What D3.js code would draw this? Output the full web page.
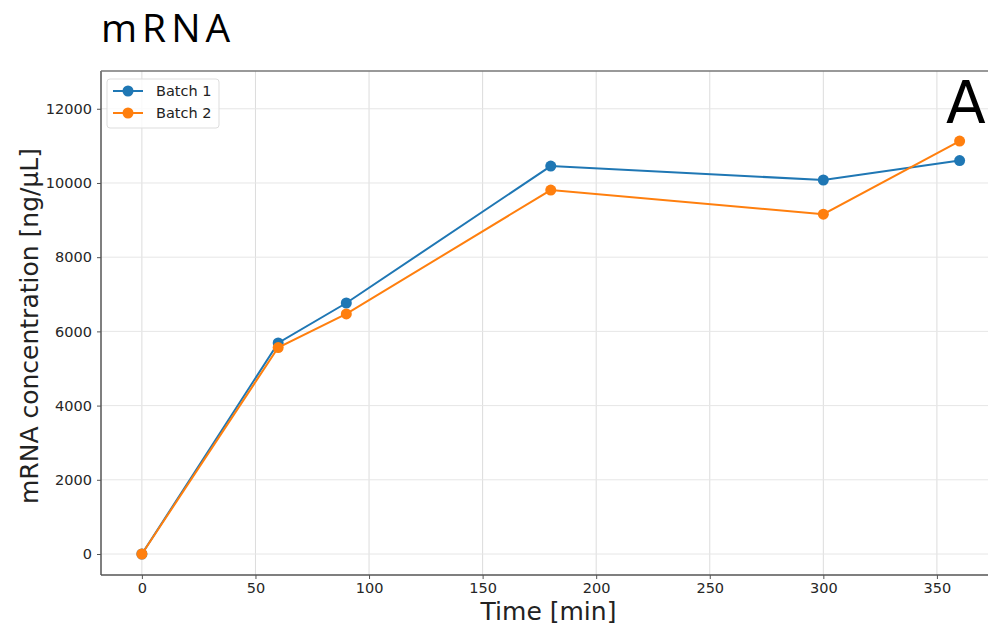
<!DOCTYPE html>
<html><head><meta charset="utf-8">
<script src="https://cdn.jsdelivr.net/npm/d3@7"></script>
<style>body{margin:0;background:#fff}svg{display:block}</style>
</head><body>
<script>
const times = [0, 60, 90, 180, 300, 360];
const batch1 = [0, 5690, 6765, 10455, 10080, 10605];
const batch2 = [0, 5565, 6470, 9810, 9160, 11130];
const seriesNames = ["Batch 1", "Batch 2"];
const colors = ["#1f77b4", "#ff7f0e"];
const xTicks = [0, 50, 100, 150, 200, 250, 300, 350];
const yTicks = [0, 2000, 4000, 6000, 8000, 10000, 12000];

const W = 988, H = 625;
const svg = d3.select("body").append("svg").attr("width", W).attr("height", H);
const L = 101, T = 71, B = 575;
const x = d3.scaleLinear().domain([-18, 378]).range([L, L + 396 * 2.2715]);
const y = d3.scaleLinear().domain([-566, 13018]).range([B, T]);
const R = W;

// grid
const g = svg.append("g");
g.selectAll(".gx").data(xTicks).enter().append("line")
  .attr("x1", d => x(d)).attr("x2", d => x(d)).attr("y1", T).attr("y2", B)
  .attr("stroke", "#dcdcdc").attr("stroke-width", 1);
g.selectAll(".gy").data(yTicks).enter().append("line")
  .attr("x1", L).attr("x2", R).attr("y1", d => y(d)).attr("y2", d => y(d))
  .attr("stroke", "#e6e6e6").attr("stroke-width", 1);

// axes
const xAxis = svg.append("g").attr("transform", `translate(0,${B})`)
  .call(d3.axisBottom(x).tickValues(xTicks).tickSize(4).tickPadding(4).tickFormat(d3.format("d")));
const yAxis = svg.append("g").attr("transform", `translate(${L},0)`)
  .call(d3.axisLeft(y).tickValues(yTicks).tickSize(4).tickPadding(5).tickFormat(d3.format("d")));
[xAxis, yAxis].forEach(a => {
  a.select(".domain").remove();
  a.selectAll("line").attr("stroke", "#555").attr("stroke-width", 1);
  a.selectAll("text").attr("font-family", "DejaVu Sans").attr("font-size", 14.5).attr("fill", "#262626");
});
// spines
svg.append("line").attr("x1", L).attr("x2", L).attr("y1", T).attr("y2", B).attr("stroke", "#555").attr("stroke-width", 1.5);
svg.append("line").attr("x1", L).attr("x2", R).attr("y1", B).attr("y2", B).attr("stroke", "#555").attr("stroke-width", 1.5);
svg.append("line").attr("x1", L).attr("x2", R).attr("y1", T).attr("y2", T).attr("stroke", "#777").attr("stroke-width", 1.5);

// lines
const data = [batch1, batch2];
const line = d3.line().x((d, i) => x(times[i])).y(d => y(d));
data.forEach((s, k) => {
  svg.append("path").datum(s).attr("d", line).attr("fill", "none")
    .attr("stroke", colors[k]).attr("stroke-width", 2);
  svg.selectAll(".p" + k).data(s).enter().append("circle")
    .attr("cx", (d, i) => x(times[i])).attr("cy", d => y(d)).attr("r", 5.5).attr("fill", colors[k]);
});

// legend
const lg = svg.append("g");
lg.append("rect").attr("x", 107).attr("y", 79).attr("width", 112).attr("height", 49).attr("rx", 3)
  .attr("fill", "#fff").attr("fill-opacity", 0.8).attr("stroke", "#ddd");
seriesNames.forEach((n, i) => {
  const yy = 91 + i * 22;
  lg.append("line").attr("x1", 113).attr("x2", 143).attr("y1", yy).attr("y2", yy).attr("stroke", colors[i]).attr("stroke-width", 2);
  lg.append("circle").attr("cx", 128).attr("cy", yy).attr("r", 5.5).attr("fill", colors[i]);
  lg.append("text").attr("x", 156).attr("y", yy + 5).text(n)
    .attr("font-family", "DejaVu Sans").attr("font-size", 14.5).attr("fill", "#222");
});

// labels
svg.append("text").attr("x", 101).attr("y", 42).text("mRNA")
  .attr("font-family", "Open Sans").attr("font-weight", 400).attr("font-size", 39)
  .attr("letter-spacing", 5).attr("fill", "#000");
svg.append("text").attr("x", 946).attr("y", 123).text("A")
  .attr("font-family", "DejaVu Sans").attr("font-size", 58).attr("fill", "#000");
svg.append("text").attr("x", 548.5).attr("y", 620).attr("text-anchor", "middle").text("Time [min]")
  .attr("font-family", "DejaVu Sans").attr("font-size", 25).attr("fill", "#222");
svg.append("text").attr("transform", "translate(38,326) rotate(-90)").attr("text-anchor", "middle")
  .text("mRNA concentration [ng/µL]")
  .attr("font-family", "DejaVu Sans").attr("font-size", 25).attr("fill", "#222");
</script>
</body></html>
